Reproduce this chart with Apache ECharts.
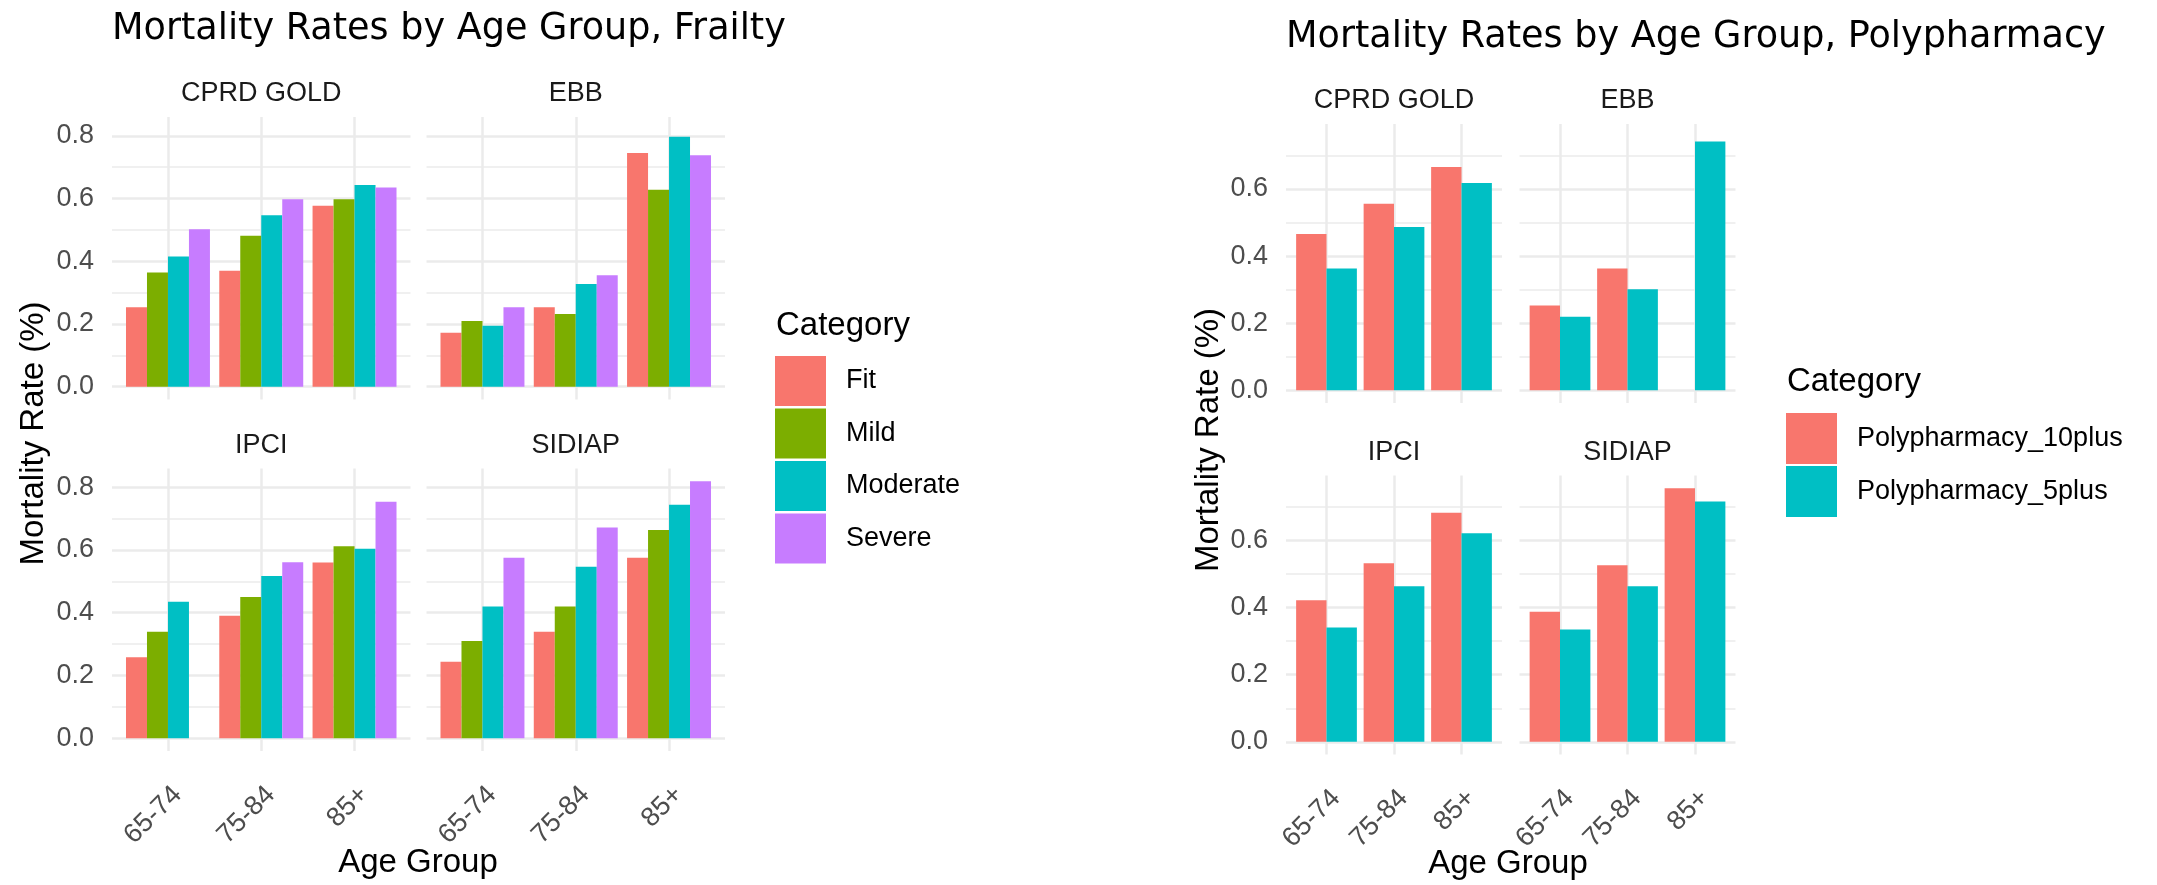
<!DOCTYPE html>
<html><head><meta charset="utf-8">
<script src="https://cdn.jsdelivr.net/npm/echarts@6/dist/echarts.min.js"></script>
<style>html,body{margin:0;padding:0;background:#fff}#c{width:2157px;height:885px}</style>
</head><body><div id="c"></div>
<script>
// ---------------- data ----------------
const ageGroups = ['65-74', '75-84', '85+'];
const databases = ['CPRD GOLD', 'EBB', 'IPCI', 'SIDIAP'];
const frailtyCategories = ['Fit', 'Mild', 'Moderate', 'Severe'];
const polyCategories = ['Polypharmacy_10plus', 'Polypharmacy_5plus'];

// rows = category (Fit, Mild, Moderate, Severe); columns = age group
const frailtyCPRD   = [[0.253, 0.370, 0.577], [0.364, 0.481, 0.598], [0.415, 0.547, 0.643], [0.502, 0.598, 0.635]];
const frailtyEBB    = [[0.172, 0.253, 0.745], [0.209, 0.232, 0.628], [0.194, 0.327, 0.797], [0.253, 0.355, 0.738]];
const frailtyIPCI   = [[0.258, 0.390, 0.560], [0.339, 0.450, 0.612], [0.435, 0.517, 0.604], [null, 0.561, 0.754]];
const frailtySIDIAP = [[0.244, 0.339, 0.575], [0.310, 0.420, 0.664], [0.420, 0.547, 0.744], [0.575, 0.672, 0.819]];

// rows = category (10plus, 5plus); columns = age group
const polyCPRD   = [[0.466, 0.556, 0.666], [0.363, 0.487, 0.618]];
const polyEBB    = [[0.253, 0.363, null], [0.219, 0.301, 0.742]];
const polyIPCI   = [[0.422, 0.532, 0.683], [0.341, 0.464, 0.622]];
const polySIDIAP = [[0.388, 0.526, 0.756], [0.335, 0.464, 0.716]];

const frailtyYTicks = [0, 0.2, 0.4, 0.6, 0.8];
const frailtyYMinor = [0.1, 0.3, 0.5, 0.7];
const polyYTicks = [0, 0.2, 0.4, 0.6];
const polyYMinor = [0.1, 0.3, 0.5, 0.7];

const frailtyColors = ['#F8766D', '#7CAE00', '#00BFC4', '#C77CFF'];
const polyColors = ['#F8766D', '#00BFC4'];

// ---------------- layout ----------------
const FONT = '"Liberation Sans", Arial, sans-serif';
const TITLE_FONT = '"DejaVu Sans", sans-serif';
const GRID_COLOR = '#EBEBEB';

const layouts = [
  { sets: [frailtyCPRD, frailtyEBB, frailtyIPCI, frailtySIDIAP], cats: frailtyCategories, colors: frailtyColors,
    ticks: frailtyYTicks, minor: frailtyYMinor, colLeft: [112, 426.5], colW: 298.5, rowTop: [117, 468.5], rowH: 282.5 },
  { sets: [polyCPRD, polyEBB, polyIPCI, polySIDIAP], cats: polyCategories, colors: polyColors,
    ticks: polyYTicks, minor: polyYMinor, colLeft: [1286, 1519.5], colW: 216, rowTop: [124, 475.5], rowH: 279 }
];

function dataMax(sets) {
  let m = 0;
  sets.forEach(s => s.forEach(r => r.forEach(v => { if (v != null && v > m) m = v; })));
  return m;
}
function txt(text, x, y, size, color, opts) {
  opts = opts || {};
  return {
    type: 'text', x: x, y: y, rotation: opts.rotation || 0, silent: true,
    style: { text: text, font: (size + 'px ') + (opts.font || FONT), fill: color,
             align: opts.align || 'center', verticalAlign: 'middle' }
  };
}

const grid = [], xAxis = [], yAxis = [], series = [], graphic = [];

layouts.forEach(L => {
  const m = dataMax(L.sets);
  const ymin = -0.05 * m, ymax = 1.05 * m;
  const unit = L.colW / 3.2;
  databases.forEach((db, p) => {
    const row = Math.floor(p / 2), col = p % 2;
    const top = L.rowTop[row], left = L.colLeft[col];
    const gBg = grid.length;
    grid.push({ left: left, top: top, width: L.colW, height: L.rowH });
    const gD = grid.length;
    grid.push({ left: left + 0.1 * unit, top: top, width: 3 * unit, height: L.rowH });

    xAxis.push({ type: 'value', gridIndex: gBg, min: 0.4, max: 3.6,
      axisLine: { show: false }, axisTick: { show: false, customValues: [1, 2, 3] }, axisLabel: { show: false },
      splitLine: { show: true, lineStyle: { color: GRID_COLOR, width: 2.5 } } });
    const xD = xAxis.length;
    xAxis.push({ type: 'category', gridIndex: gD, data: ageGroups,
      axisLine: { show: false }, axisTick: { show: false }, splitLine: { show: false },
      axisLabel: row === 1 ? { show: true, interval: 0, rotate: 45, align: 'right', verticalAlign: 'top', margin: 30,
        fontFamily: FONT, fontSize: 27, color: '#4D4D4D' } : { show: false } });

    yAxis.push({ type: 'value', gridIndex: gBg, min: ymin, max: ymax,
      axisLine: { show: false }, axisTick: { show: false, customValues: L.ticks },
      splitLine: { show: true, lineStyle: { color: GRID_COLOR, width: 2.5 } },
      axisLabel: col === 0 ? { show: true, customValues: L.ticks, formatter: v => Number(v).toFixed(1), margin: 18,
        fontFamily: FONT, fontSize: 27, color: '#4D4D4D' } : { show: false } });
    yAxis.push({ type: 'value', gridIndex: gBg, min: ymin, max: ymax, position: 'left',
      axisLine: { show: false }, axisTick: { show: false, customValues: L.minor }, axisLabel: { show: false },
      splitLine: { show: true, lineStyle: { color: GRID_COLOR, width: 1.5 } } });
    const yD = yAxis.length;
    yAxis.push({ type: 'value', gridIndex: gD, min: ymin, max: ymax, show: false });

    L.cats.forEach((c, ci) => {
      series.push({ type: 'bar', name: c, xAxisIndex: xD, yAxisIndex: yD, data: L.sets[p][ci],
        barGap: '0%', barCategoryGap: '10%', itemStyle: { color: L.colors[ci] },
        emphasis: { disabled: true }, silent: true });
    });
    graphic.push(txt(db, left + L.colW / 2, top - 23, 27, '#1A1A1A'));
  });
});

// titles and axis titles
graphic.push(txt('Mortality Rates by Age Group, Frailty', 112, 29, 36.6, '#000', { align: 'left', font: TITLE_FONT }));
graphic.push(txt('Mortality Rates by Age Group, Polypharmacy', 1286, 37, 36.6, '#000', { align: 'left', font: TITLE_FONT }));
graphic.push(txt('Mortality Rate (%)', 34, 433.5, 33, '#000', { rotation: Math.PI / 2 }));
graphic.push(txt('Mortality Rate (%)', 1209, 440, 33, '#000', { rotation: Math.PI / 2 }));
graphic.push(txt('Age Group', 418, 863, 33, '#000'));
graphic.push(txt('Age Group', 1508, 864, 33, '#000'));
graphic.push(txt('Category', 776, 326, 33, '#000', { align: 'left' }));
graphic.push(txt('Category', 1787, 382, 33, '#000', { align: 'left' }));

const legendBase = { orient: 'vertical', icon: 'rect', itemWidth: 51, selectedMode: false, padding: 0,
  textStyle: { fontFamily: FONT, fontSize: 27, color: '#000', padding: [0, 0, 0, 15] } };

const chart = echarts.init(document.getElementById('c'), null, { renderer: 'canvas' });
chart.setOption({
  backgroundColor: '#fff',
  animation: false,
  grid: grid, xAxis: xAxis, yAxis: yAxis, series: series,
  legend: [
    Object.assign({}, legendBase, { data: frailtyCategories, left: 775, top: 356, itemHeight: 50, itemGap: 2.5 }),
    Object.assign({}, legendBase, { data: polyCategories, left: 1786, top: 413, itemHeight: 51, itemGap: 2 })
  ],
  graphic: graphic
});
</script></body></html>
